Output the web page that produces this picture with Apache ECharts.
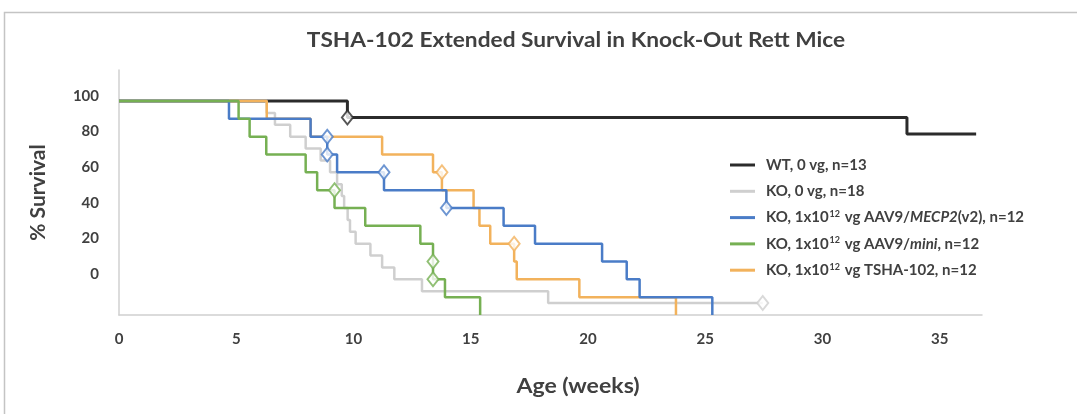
<!DOCTYPE html>
<html>
<head>
<meta charset="utf-8">
<script src="https://cdn.jsdelivr.net/npm/echarts@6/dist/echarts.min.js"></script>
<style>
html,body{margin:0;padding:0;background:#fff;}
#chart{width:1077px;height:414px;}
</style>
</head>
<body>
<div id="chart"></div>
<script>
// ---- Data (weeks, % survival) ----
const chartTitle = 'TSHA-102 Extended Survival in Knock-Out Rett Mice';
const xAxisName = 'Age (weeks)';
const yAxisName = '% Survival';
const yTickLabels = [0, 20, 40, 60, 80, 100];

const seriesNames = [
  'WT, 0 vg, n=13',
  'KO, 0 vg, n=18',
  'KO, 1x10^12 vg AAV9/MECP2(v2), n=12',
  'KO, 1x10^12 vg AAV9/mini, n=12',
  'KO, 1x10^12 vg TSHA-102, n=12'
];

const wtWeeks = [0, 9.74, 33.6, 36.55];
const wtSurv  = [100, 92.3, 84.6, 84.6];
const wtCensor = [[9.74, 92.3]];

const koWeeks = [0, 6.3, 6.65, 7.3, 7.96, 8.6, 9.0, 9.3, 9.5, 9.6, 9.75, 9.85, 10.09, 10.72, 11.22, 11.74, 12.92, 18.3, 27.45];
const koSurv  = [100, 94.4, 88.9, 83.3, 77.8, 72.2, 66.7, 61.1, 55.6, 50, 44.4, 38.9, 33.3, 27.8, 22.2, 16.7, 11.1, 5.6, 5.6];
const koCensor = [[27.45, 5.6]];

const mecpWeeks = [0, 4.69, 8.17, 8.88, 9.3, 11.3, 13.96, 16.4, 17.74, 20.6, 21.65, 22.2, 25.3];
const mecpSurv  = [100, 91.7, 83.3, 75, 66.7, 58.3, 50, 41.7, 33.3, 25, 16.7, 8.3, 0];
const mecpCensor = [[8.88, 83.3], [8.88, 75], [11.3, 66.7], [13.96, 50]];

const miniWeeks = [0, 5.1, 5.57, 6.28, 7.96, 8.45, 9.19, 10.5, 12.85, 13.39, 13.39, 13.9, 15.4];
const miniSurv  = [100, 91.7, 83.3, 75, 66.7, 58.3, 50, 41.7, 33.3, 25, 16.7, 8.3, 0];
const miniCensor = [[9.19, 58.3], [13.39, 25], [13.39, 16.7]];

const tshaWeeks = [0, 6.3, 8.17, 11.22, 13.39, 13.77, 15.12, 15.37, 15.83, 16.85, 16.96, 19.63, 23.75];
const tshaSurv  = [100, 91.7, 83.3, 75, 66.7, 58.3, 50, 41.7, 33.3, 25, 16.7, 8.3, 0];
const tshaCensor = [[13.77, 66.7], [16.85, 33.3]];

// ---- Styling ----
const colors = ['#2b2b2b', '#cfcfcf', '#4a7cc7', '#76b053', '#f2b25c'];
const FONT = 'Lato';
const TXT = '#404040';

const legendRich = {
  'WT, 0 vg, n=13': 'WT, 0 vg, n=13',
  'KO, 0 vg, n=18': 'KO, 0 vg, n=18',
  'KO, 1x10^12 vg AAV9/MECP2(v2), n=12': 'KO, 1x10{sup|12} vg AAV9/{it|MECP2}(v2), n=12',
  'KO, 1x10^12 vg AAV9/mini, n=12': 'KO, 1x10{sup|12} vg AAV9/{it|mini}, n=12',
  'KO, 1x10^12 vg TSHA-102, n=12': 'KO, 1x10{sup|12} vg TSHA-102, n=12'
};

function zip(a, b) { return a.map((v, i) => [v, b[i]]); }

const lineDefs = [
  {name: seriesNames[0], data: zip(wtWeeks, wtSurv), c: colors[0], w: 3, censor: wtCensor},
  {name: seriesNames[1], data: zip(koWeeks, koSurv), c: colors[1], w: 2.5, censor: koCensor},
  {name: seriesNames[4], data: zip(tshaWeeks, tshaSurv), c: colors[4], w: 2.5, censor: tshaCensor},
  {name: seriesNames[2], data: zip(mecpWeeks, mecpSurv), c: colors[2], w: 2.5, censor: mecpCensor},
  {name: seriesNames[3], data: zip(miniWeeks, miniSurv), c: colors[3], w: 2.5, censor: miniCensor}
];

const series = [];
lineDefs.forEach(d => {
  series.push({
    name: d.name, type: 'line', step: 'end', data: d.data,
    symbol: 'none', color: d.c,
    lineStyle: {color: d.c, width: d.w},
    xAxisIndex: 0, yAxisIndex: 0, animation: false
  });
});
lineDefs.forEach(d => {
  series.push({
    name: d.name + ' censored', type: 'scatter', data: d.censor,
    symbol: 'diamond', symbolSize: [11, 14],
    itemStyle: {color: '#ffffff', borderColor: d.c, borderWidth: 2},
    xAxisIndex: 0, yAxisIndex: 0, z: 5, animation: false
  });
});

const chart = echarts.init(document.getElementById('chart'));
chart.setOption({
  animation: false,
  backgroundColor: '#ffffff',
  grid: {left: 119, right: 95, top: 70, bottom: 99, containLabel: false},
  xAxis: {
    type: 'value', min: 0, max: 36.8, interval: 5,
    axisLine: {show: true, lineStyle: {color: '#d0d0d0', width: 1.5}},
    axisTick: {show: false},
    splitLine: {show: false},
    axisLabel: {showMaxLabel: false, margin: 17, fontFamily: FONT, fontWeight: 'bold', fontSize: 15, color: TXT}
  },
  yAxis: [
    {type: 'value', min: 0, max: 114.5, show: false, splitLine: {show: false}},
    {
      type: 'value', min: -23, max: 114.4, position: 'left',
      name: yAxisName, nameLocation: 'middle', nameGap: 70, nameRotate: 90,
      nameTextStyle: {fontFamily: FONT, fontWeight: 'bold', fontSize: 21, color: TXT},
      axisLine: {show: true, lineStyle: {color: '#d0d0d0', width: 1.5}},
      axisTick: {show: false},
      splitLine: {show: false},
      axisLabel: {customValues: yTickLabels, margin: 20, fontFamily: FONT, fontWeight: 'bold', fontSize: 15, color: TXT}
    }
  ],
  legend: {
    orient: 'vertical', left: 730, top: 157, padding: 0,
    data: seriesNames, icon: 'rect', itemWidth: 25, itemHeight: 3, itemGap: 10.3,
    selectedMode: false,
    formatter: name => legendRich[name],
    textStyle: {
      fontFamily: FONT, fontWeight: 'bold', fontSize: 15, color: TXT, lineHeight: 16,
      padding: [0, 0, 0, 6],
      rich: {
        sup: {fontFamily: FONT, fontWeight: 'bold', fontSize: 9, color: TXT, verticalAlign: 'top', lineHeight: 16, padding: [0, 1, 6, 1]},
        it: {fontFamily: FONT, fontWeight: 'bold', fontStyle: 'italic', fontSize: 15, color: TXT, lineHeight: 16}
      }
    }
  },
  graphic: [
    {type: 'rect', shape: {x: 4.5, y: 12.5, width: 1100, height: 420}, style: {fill: 'none', stroke: '#c4c4c4', lineWidth: 1.5}, silent: true},
    {type: 'text', x: 576, y: 40, scaleX: 1.08, style: {text: chartTitle, fontFamily: FONT, fontWeight: 'bold', fontSize: 21, fill: TXT, align: 'center', verticalAlign: 'middle'}},
    {type: 'text', x: 578, y: 386, scaleX: 1.1, style: {text: xAxisName, fontFamily: FONT, fontWeight: 'bold', fontSize: 21, fill: TXT, align: 'center', verticalAlign: 'middle'}}
  ],
  series: series
});
</script>
</body>
</html>
